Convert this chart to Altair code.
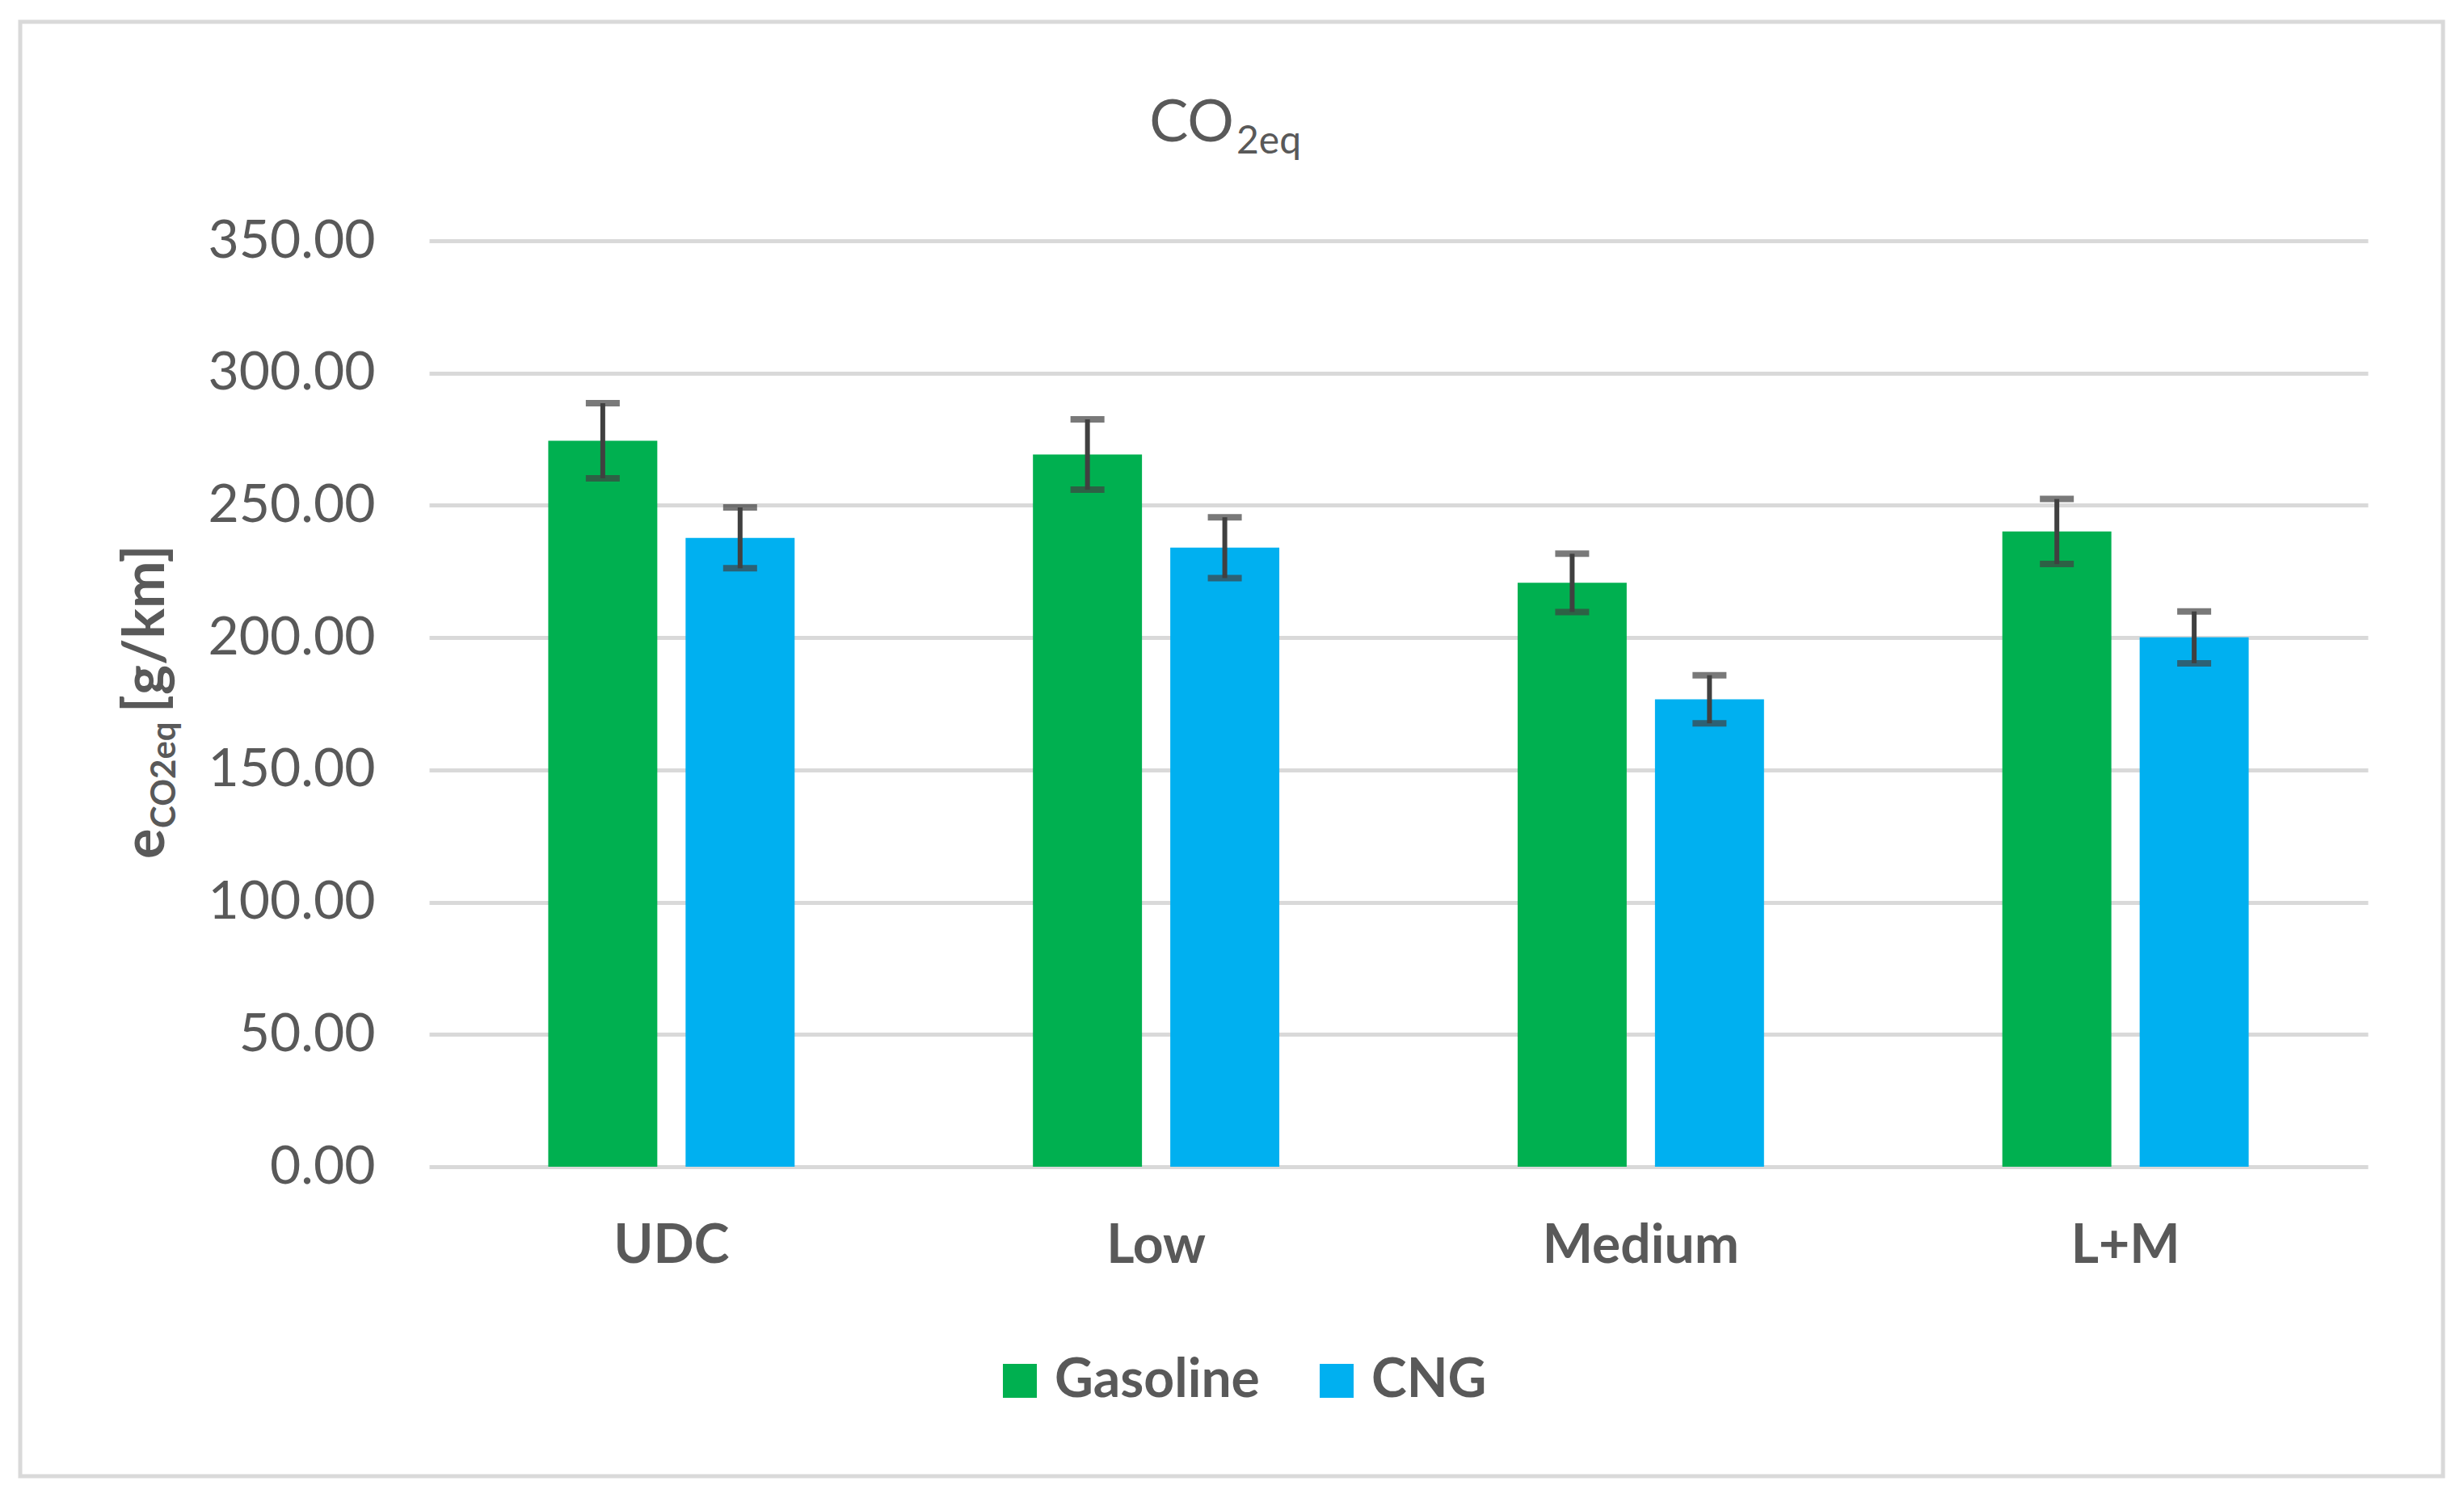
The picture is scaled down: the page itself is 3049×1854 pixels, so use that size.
import altair as alt
import pandas as pd

categories = ["UDC", "Low", "Medium", "L+M"]
fuels = ["Gasoline", "CNG"]
gasoline = [274.4, 269.2, 220.7, 240.1]
gasoline_err = [14.2, 13.3, 11.0, 12.3]
cng = [237.7, 234.0, 176.7, 200.1]
cng_err = [11.5, 11.5, 9.1, 9.8]
colors = ["#00B050", "#00B0F0"]
y_ticks = [0, 50, 100, 150, 200, 250, 300, 350]

rows = []
for i, c in enumerate(categories):
    rows.append({"cat": c, "fuel": "Gasoline", "val": gasoline[i],
                 "lo": gasoline[i] - gasoline_err[i], "hi": gasoline[i] + gasoline_err[i]})
    rows.append({"cat": c, "fuel": "CNG", "val": cng[i],
                 "lo": cng[i] - cng_err[i], "hi": cng[i] + cng_err[i]})
df = pd.DataFrame(rows)

TEXT = "#595959"
FONT = "Lato"

x_enc = alt.X("cat:N", sort=categories, title=None,
              scale=alt.Scale(paddingInner=0.4917, paddingOuter=0.2458),
              axis=alt.Axis(labelFont=FONT, labelFontWeight="bold", labelFontSize=66,
                            labelColor=TEXT, labelPadding=66, ticks=False, domain=False,
                            labelAngle=0, grid=False, labelLimit=0))
xo_enc = alt.XOffset("fuel:N", sort=fuels,
                     scale=alt.Scale(paddingInner=0.206, paddingOuter=0))

bars = alt.Chart(df).mark_bar().encode(
    x=x_enc,
    xOffset=xo_enc,
    y=alt.Y("val:Q", title=None, scale=alt.Scale(domain=[0, 350]),
            axis=alt.Axis(values=y_ticks, format=".2f", labelFont=FONT, labelFontSize=66,
                          labelColor=TEXT, labelPadding=67, ticks=False, domain=False,
                          gridColor="#d9d9d9", gridWidth=5, labelLimit=0)),
    color=alt.Color("fuel:N", sort=fuels,
                    scale=alt.Scale(domain=fuels, range=colors),
                    legend=alt.Legend(title=None, orient="none", legendX=698, legendY=1378,
                                      direction="horizontal", symbolType="square",
                                      symbolSize=1764, symbolStrokeWidth=0,
                                      labelFont=FONT, labelFontWeight="bold",
                                      labelFontSize=66, labelColor=TEXT, labelLimit=0,
                                      labelOffset=10, columnPadding=62)),
)

rules = alt.Chart(df).mark_rule(color="#404040", strokeWidth=6).encode(
    x=x_enc, xOffset=xo_enc,
    y=alt.Y("lo:Q", title=None), y2="hi:Q",
)
caps_hi = alt.Chart(df).mark_tick(color="#404040", size=42, thickness=8).encode(
    x=x_enc, xOffset=xo_enc, y=alt.Y("hi:Q", title=None),
)
caps_lo = alt.Chart(df).mark_tick(color="#404040", size=42, thickness=8).encode(
    x=x_enc, xOffset=xo_enc, y=alt.Y("lo:Q", title=None),
)

one = pd.DataFrame({"a": [0]})

border = alt.Chart(one).mark_rect(filled=False, color="#d9d9d9", strokeWidth=5).encode(
    x=alt.value(-506), x2=alt.value(2492), y=alt.value(-271), y2=alt.value(1529)
)

title_main = alt.Chart(one).mark_text(text="CO", font=FONT, fontSize=72, color=TEXT,
                                      align="right", baseline="alphabetic").encode(
    x=alt.value(996), y=alt.value(-123))
title_sub = alt.Chart(one).mark_text(text="2eq", font=FONT, fontSize=48, color=TEXT,
                                     align="left", baseline="alphabetic").encode(
    x=alt.value(999), y=alt.value(-108))

yt_e = alt.Chart(one).mark_text(text="e", font=FONT, fontSize=70, fontWeight="bold",
                                color=TEXT, angle=270, align="left",
                                baseline="alphabetic").encode(
    x=alt.value(-328), y=alt.value(765))
yt_sub = alt.Chart(one).mark_text(text="CO2eq", font=FONT, fontSize=42, fontWeight="bold",
                                  color=TEXT, angle=270, align="left",
                                  baseline="alphabetic").encode(
    x=alt.value(-314), y=alt.value(727))
yt_unit = alt.Chart(one).mark_text(text="[g/km]", font=FONT, fontSize=70, fontWeight="bold",
                                   color=TEXT, angle=270, align="left",
                                   baseline="alphabetic").encode(
    x=alt.value(-328), y=alt.value(584))

chart = alt.layer(
    border, bars, rules, caps_hi, caps_lo, title_main, title_sub, yt_e, yt_sub, yt_unit
).properties(
    width=2399, height=1146,
    autosize=alt.AutoSizeParams(type="none"),
    padding={"left": 523, "top": 290, "right": 111, "bottom": 402},
    background="white",
).configure_view(strokeWidth=0)

chart.save("out.html", embed_options={"renderer": "svg", "actions": False})
